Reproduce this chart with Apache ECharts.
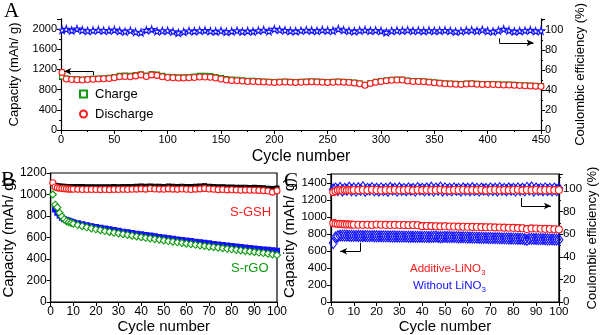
<!DOCTYPE html>
<html><head><meta charset="utf-8">
<script src="https://cdn.jsdelivr.net/npm/echarts@6/dist/echarts.min.js"></script>
<style>html,body{margin:0;padding:0;background:#fff}#c{width:600px;height:335px}</style>
</head><body><div id="c"></div>
<script>
// ---------- Panel A ----------
const cyclesA = [1,5,10,15,20,25,30,35,40,45,50,55,60,65,70,75,80,85,90,95,100,105,110,115,120,125,130,135,140,145,150,155,160,165,170,175,180,185,190,195,200,205,210,215,220,225,230,235,240,245,250,255,260,265,270,275,280,285,290,295,300,305,310,315,320,325,330,335,340,345,350,355,360,365,370,375,380,385,390,395,400,405,410,415,420,425,430,435,440,445,450];
const dischargeA = [1140,1010,1000,995,990,1000,1005,1010,1015,1020,
 1035,1055,1060,1055,1070,1090,1060,1090,1080,1055,
 1040,1035,1030,1030,1035,1040,1050,1050,1045,1030,
 1010,990,980,975,970,960,960,955,950,945,
 940,945,950,945,940,945,950,955,950,945,
 940,945,950,945,940,930,915,885,920,945,
 960,975,985,990,990,970,960,960,955,945,
 935,925,915,910,905,900,910,915,905,900,
 900,900,895,890,890,885,880,875,870,865,
 860];
const chargeA = [1060,1020,1010,1005,1000,1010,1015,1020,1025,1035,
 1050,1070,1075,1070,1085,1100,1075,1105,1095,1070,
 1055,1050,1045,1045,1050,1060,1070,1070,1065,1050,
 1030,1010,1000,995,985,975,975,970,960,955,
 950,955,960,955,950,955,960,965,960,955,
 950,955,960,955,950,940,925,895,930,955,
 970,985,995,1000,1000,980,970,970,965,955,
 945,935,925,920,915,910,920,925,915,910,
 910,910,905,900,900,895,890,885,880,875,
 870];
const ceA = [99.8,100.6,99.4,100.9,99.6,99.0,99.3,99.8,99.2,99.4,
 99.9,98.9,98.2,99.2,97.8,97.3,99.6,100.4,98.6,99.0,
 99.2,98.2,97.0,98.0,99.0,98.6,99.2,99.4,98.7,98.4,
 99.0,98.0,98.5,99.2,98.2,98.9,98.4,99.2,99.8,98.6,
 100.6,100.0,99.5,98.9,98.6,99.2,99.7,99.4,99.0,99.8,
 99.3,99.1,100.8,99.7,99.0,98.6,99.3,99.8,99.1,99.5,
 98.9,97.5,99.0,99.3,99.2,99.7,99.0,99.3,98.9,99.3,
 99.0,99.2,99.5,99.0,98.2,98.7,99.3,99.7,99.0,100.0,
 98.8,98.3,99.2,100.6,99.3,98.3,98.9,99.2,99.6,98.7,
 99.1];

// ---------- Panels B and C ----------
const cyclesBC = [1,2,3,4,5,6,7,8,9,10,12,14,16,18,20,22,24,26,28,30,32,34,36,38,40,42,44,46,48,50,52,54,56,58,60,62,64,66,68,70,72,74,76,78,80,82,84,86,88,90,92,94,96,98,100];
const cyclesC = [1,2,3,4,5,6,7,8,9,10,11,12,13,14,15,16,17,18,19,20,21,22,23,24,25,26,27,28,29,30,31,32,33,34,35,36,37,38,39,40,41,42,43,44,45,46,47,48,49,50,51,52,53,54,55,56,57,58,59,60,61,62,63,64,65,66,67,68,69,70,71,72,73,74,75,76,77,78,79,80,81,82,83,84,85,86,87,88,89,90,91,92,93,94,95,96,97,98,99,100];
const gshDischarge = [1110,1070,1062,1058,1055,1053,1052,1050,1050,1049,
 1048,1047,1047,1046,1046,1045,1046,1045,1047,1046,
 1048,1047,1049,1050,1052,1050,1053,1051,1050,1049,
 1052,1050,1048,1051,1049,1047,1050,1052,1055,1051,
 1049,1045,1046,1043,1044,1042,1040,1041,1039,1040,
 1038,1036,1032,1022,1035];
const gshCharge = [null,1085,1080,1078,1077,1076,1075,1075,1074,1074,
 1073,1073,1072,1072,1071,1071,1072,1071,1073,1072,
 1074,1073,1075,1076,1078,1076,1079,1077,1076,1075,
 1078,1076,1074,1077,1075,1073,1076,1078,1082,1077,
 1075,1071,1072,1069,1070,1068,1066,1067,1065,1066,
 1064,1062,1058,1055,1060];
const rgoDischarge = [1000,905,880,830,795,770,752,742,735,728,
 716,705,695,685,676,668,660,652,645,638,
 631,624,617,610,603,597,591,585,579,573,
 567,561,555,549,543,538,532,526,521,515,
 510,505,500,495,490,485,480,475,470,465,
 460,455,449,443,437];
const rgoCharge = [null,860,830,805,785,770,762,755,748,742,
 732,722,713,705,697,690,683,676,669,662,
 654,648,641,635,629,623,617,611,605,599,
 593,587,582,576,571,566,561,556,550,545,
 540,535,530,525,520,515,511,506,502,497,
 493,489,485,481,477];
const addCapacity = [930,925,920,922,918,915,916,914,913,912,
 912,910,911,909,915,912,910,908,910,909,
 908,906,908,905,895,897,895,894,892,893,
 891,890,889,888,887,886,884,883,882,881,
 880,879,877,876,875,872,870,860,868,867,
 865,863,861,859,856];
const addCharge = [942,936,932,933,930,927,927,925,924,923,
 923,921,922,920,925,923,921,919,921,920,
 919,917,919,916,906,908,906,905,903,904,
 902,901,900,899,898,897,895,894,893,892,
 891,890,888,887,886,883,881,871,879,878,
 876,874,872,870,867];
const addCE = [97.3,98.1,98.9,99.1,98.7,99.3,98.9,99.1,98.8,99.2,
 99.0,99.3,98.9,99.4,99.1,98.8,99.2,99.0,99.3,98.9,
 99.1,99.4,98.8,99.2,99.0,99.3,98.9,99.1,99.4,99.0,
 98.8,99.2,99.1,99.3,98.9,99.2,99.0,99.4,98.8,99.1,
 99.3,98.9,99.2,99.0,99.1,99.4,98.8,99.2,99.0,99.3,
 98.9,99.1,99.2,99.0,99.1];
const woCapacity = [695,762,776,782,784,783,782,781,781,780,
 780,779,779,778,778,777,777,777,776,776,
 775,775,775,774,774,773,773,773,772,772,
 772,771,771,770,770,770,769,769,769,768,
 768,768,767,768,770,772,766,764,766,768,
 767,767,766,765,765,764,763,763,762,761,
 761,760,759,759,758,757,757,756,755,755,
 754,753,753,752,751,751,750,749,749,748,
 747,746,746,745,740,732,744,745,744,743,
 742,741,741,740,739,739,738,737,736,735];
const woCE = [99.6,100.4,99.1,100.9,98.7,100.2,99.3,101.2,98.9,100.5,
 98.6,100.7,99.2,101.5,98.5,100.1,99.5,100.8,98.8,100.3,
 98.7,100.6,99.0,100.2,98.5,100.9,99.4,100.3,98.6,100.7,
 99.2,100.1,98.9,100.6,99.3,100.0,98.6,100.8,99.4,100.2,
 98.8,100.5,99.1,101.1,98.6,100.4,99.3,101.3,98.7,100.6,
 99.0,100.2,98.8,100.6,99.3,100.1,98.7,100.5,99.2,100.3,
 98.9,100.7,99.0,100.2,98.6,100.4,99.4,100.0,98.8,100.6,
 99.1,100.3,98.7,100.8,99.2,100.1,98.9,100.5,99.3,100.2,
 98.6,100.6,99.0,100.3,98.8,101.0,99.4,101.4,98.7,100.5,
 99.2,100.1,98.9,100.6,99.1,100.2,98.8,100.4,99.0,100.3];

const RED = '#ff1a1a', GREEN = '#0f9a0f', BLUE = '#1010ff', BLACK = '#000';
const STAR = 'path://M50,0 L61,35 L98,35 L68,57 L79,91 L50,70 L21,91 L32,57 L2,35 L39,35 Z';
const FONT = 'Liberation Sans';

function pairs(xs, ys) { return xs.map((x, i) => [x, ys[i] == null ? '-' : ys[i]]); }
function sc(name, xi, yi, xs, ys, symbol, size, color, fill, z, extra) {
  return Object.assign({
    name: name, type: 'scatter', xAxisIndex: xi, yAxisIndex: yi,
    data: pairs(xs, ys), symbol: symbol, symbolSize: size, z: z,
    itemStyle: { color: fill, borderColor: color, borderWidth: 1.1, opacity: 1 },
    emphasis: { disabled: true }, silent: true
  }, extra || {});
}
function arrowLines(segs) {
  return {
    silent: true, animation: false, symbol: ['none', 'none'],
    lineStyle: { color: '#000', width: 1, type: 'solid' },
    label: { show: false }, emphasis: { disabled: true },
    data: segs.map(s => [
      { coord: s[0], symbol: 'none' },
      { coord: s[1], symbol: s[2] ? 'arrow' : 'none', symbolSize: [5, 7] }
    ])
  };
}

const axisLine = { show: true, lineStyle: { color: '#000', width: 1.2 } };
const axisTick = { show: true, length: 4, lineStyle: { color: '#000', width: 1 } };
const minor = { show: true, splitNumber: 2, length: 2, lineStyle: { color: '#000', width: 1 } };

function xAx(gi, max, interval, fs, nameGap, nfs, withMinor) {
  return {
    gridIndex: gi, type: 'value', min: 0, max: max, interval: interval,
    axisLine: axisLine, axisTick: axisTick, minorTick: withMinor ? minor : { show: false },
    splitLine: { show: false },
    axisLabel: { color: '#000', fontSize: fs, fontFamily: FONT, margin: 4 },
    name: 'Cycle number', nameLocation: 'middle', nameGap: nameGap,
    nameTextStyle: { color: '#000', fontSize: nfs, fontFamily: FONT }
  };
}
function yAx(gi, pos, max, interval, fs, name, nameGap, nfs, withMinor) {
  return {
    gridIndex: gi, type: 'value', position: pos, min: 0, max: max, interval: interval,
    axisLine: axisLine, axisTick: axisTick, minorTick: withMinor ? minor : { show: false },
    splitLine: { show: false },
    axisLabel: { color: '#000', fontSize: fs, fontFamily: FONT, margin: 4,
      formatter: v => (Math.abs(v / interval - Math.round(v / interval)) < 1e-6 ? String(v) : '') },
    name: name, nameLocation: 'middle', nameGap: nameGap, nameRotate: 90,
    nameTextStyle: { color: '#000', fontSize: nfs, fontFamily: FONT }
  };
}

const chart = echarts.init(document.getElementById('c'), null, { renderer: 'canvas' });
chart.setOption({
  animation: false,
  backgroundColor: '#fff',
  grid: [
    { left: 58, right: 59, top: 0, bottom: 205 },
    { left: 47, right: 323, top: 173, bottom: 33, show: true, borderColor: '#000', borderWidth: 1.2, backgroundColor: 'transparent' },
    { left: 331, right: 37, top: 174, bottom: 33, show: true, borderColor: '#000', borderWidth: 1.2, backgroundColor: 'transparent' }
  ],
  xAxis: [
    xAx(0, 450, 50, 11, 19, 16, true),
    xAx(1, 100, 10, 12, 15, 15, false),
    xAx(2, 100, 10, 11.5, 15, 15, false)
  ],
  yAxis: [
    yAx(0, 'left', 2200, 400, 11, 'Capacity (mAh/ g)', 40, 13, true),
    yAx(0, 'right', 111, 20, 11, 'Coulombic efficiency (%)', 28, 13, true),
    yAx(1, 'left', 1200, 200, 12, 'Capacity (mAh/ g)', 32, 15, false),
    yAx(2, 'left', 1510, 200, 11.5, 'Capacity (mAh/ g)', 29, 15, false),
    yAx(2, 'right', 113.3, 20, 11.5, 'Coulombic efficiency (%)', 23, 13, true)
  ],
  legend: {
    left: 79, top: 87, orient: 'vertical', itemGap: 6, itemWidth: 7, itemHeight: 7, padding: 0,
    data: [{ name: 'Charge', icon: 'rect' }, { name: 'Discharge', icon: 'circle' }],
    textStyle: { color: '#000', fontSize: 13, fontFamily: FONT, lineHeight: 14, padding: [0, 0, 0, 3] },
    selectedMode: false
  },
  series: [
    sc('Charge', 0, 0, cyclesA, chargeA, 'rect', 5, GREEN, '#fff', 2),
    sc('Discharge', 0, 0, cyclesA, dischargeA, 'circle', 6, RED, '#fff', 3, {
      markLine: arrowLines([[[30, 1160], [3, 1160], true], [[30, 1160], [30, 1080], false]])
    }),
    sc('CE A', 0, 1, cyclesA, ceA, STAR, 7, BLUE, '#fff', 3, {
      markLine: arrowLines([[[411, 91.5], [411, 87], false], [[411, 87], [443, 87], true]])
    }),
    sc('S-GSH charge', 1, 2, cyclesBC, gshCharge, 'rect', 4, BLACK, BLACK, 2),
    sc('S-GSH discharge', 1, 2, cyclesBC, gshDischarge, 'circle', 6, RED, '#fff', 3),
    sc('S-rGO charge', 1, 2, cyclesBC, rgoCharge, 'rect', 5, BLUE, BLUE, 2),
    sc('S-rGO discharge', 1, 2, cyclesBC, rgoDischarge, 'diamond', 7, GREEN, '#fff', 3),
    sc('Add charge', 2, 3, cyclesBC, addCharge, 'rect', 4, BLACK, BLACK, 2),
    sc('Add capacity', 2, 3, cyclesBC, addCapacity, 'circle', 7, RED, '#fff', 3),
    sc('Without capacity', 2, 3, cyclesC, woCapacity, 'diamond', [8, 11], BLUE, 'transparent', 3, {
      markLine: arrowLines([[[13, 697], [13, 599], false], [[13, 599], [4, 599], true]])
    }),
    sc('Without CE', 2, 4, cyclesC, woCE, 'diamond', [8, 11], BLUE, 'transparent', 2),
    sc('Add CE', 2, 4, cyclesBC, addCE, 'circle', 7, RED, '#fff', 3, {
      markLine: arrowLines([[[83.5, 92], [83.5, 85], false], [[83.5, 85], [96.5, 85], true]])
    })
  ],
  graphic: [
    { type: 'text', left: 4, top: 1, style: { text: 'A', font: '21px "Liberation Serif"', fill: '#000' } },
    { type: 'text', left: 1, top: 170, style: { text: 'B', font: '21px "Liberation Serif"', fill: '#000' } },
    { type: 'text', left: 284, top: 171, style: { text: 'C', font: '21px "Liberation Serif"', fill: '#000' } },
    { type: 'text', left: 230, top: 206, style: { text: 'S-GSH', font: '13px "Liberation Sans"', fill: RED } },
    { type: 'text', left: 231, top: 262, style: { text: 'S-rGO', font: '13px "Liberation Sans"', fill: GREEN } },
    { type: 'text', left: 410, top: 263, style: {
      text: '{a|Additive-LiNO}{s|3}', fill: RED,
      rich: { a: { fontSize: 11.5, fontFamily: FONT, fill: RED }, s: { fontSize: 8, fontFamily: FONT, fill: RED, padding: [7, 0, 0, 0] } } } },
    { type: 'text', left: 413, top: 280, style: {
      text: '{a|Without LiNO}{s|3}', fill: BLUE,
      rich: { a: { fontSize: 11.5, fontFamily: FONT, fill: BLUE }, s: { fontSize: 8, fontFamily: FONT, fill: BLUE, padding: [7, 0, 0, 0] } } } }
  ]
});
</script>
</body></html>
